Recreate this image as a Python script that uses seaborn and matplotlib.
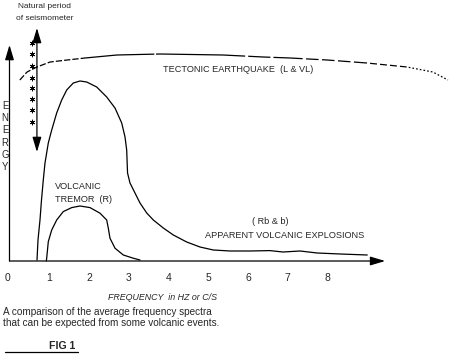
import numpy as np
import pandas as pd
import matplotlib
matplotlib.use("Agg")
import matplotlib.pyplot as plt
from matplotlib.lines import Line2D
import seaborn as sns

# ---------------- data (frequency in Hz, relative energy) ----------------
tect_freq = [0.26, 0.44, 0.69, 1.02, 1.45, 1.90, 2.70, 3.79, 5.37, 6.38, 7.06, 7.99, 8.99, 10.0, 10.65, 11.03]
tect_energy = [9.05, 9.45, 9.70, 9.95, 10.05, 10.15, 10.30, 10.35, 10.30, 10.20, 10.15, 10.05, 9.90, 9.70, 9.45, 9.05]

expl_freq = [0.692, 0.717, 0.767, 0.805, 0.850, 0.893, 0.976, 1.062, 1.187, 1.313, 1.439, 1.605, 1.774,
             1.942, 2.194, 2.445, 2.654, 2.823, 2.906, 2.948, 2.964, 2.970, 3.031, 3.157, 3.283, 3.452,
             3.618, 3.869, 4.121, 4.458, 4.792, 5.127, 5.547, 6.05, 6.55, 6.88, 7.31, 7.74, 8.32, 9.00]
expl_energy = [0.05, 1.05, 2.05, 3.05, 4.05, 4.90, 5.90, 6.55, 7.40, 8.05, 8.55, 8.90, 9.00,
               8.95, 8.70, 8.20, 7.65, 6.90, 6.20, 5.55, 4.70, 4.40, 3.90, 3.40, 2.90, 2.40,
               2.05, 1.65, 1.30, 0.95, 0.70, 0.55, 0.50, 0.50, 0.52, 0.45, 0.50, 0.40, 0.35, 0.30]

trem_freq = [0.926, 0.936, 0.976, 1.062, 1.187, 1.353, 1.565, 1.774, 2.025, 2.277, 2.445, 2.486, 2.528,
             2.654, 2.863, 3.114, 3.283]
trem_energy = [0.0, 0.15, 0.97, 1.55, 2.05, 2.47, 2.67, 2.75, 2.67, 2.39, 2.05, 1.64, 1.14,
               0.64, 0.30, 0.14, 0.05]

seis_freq = 0.69            # natural period of seismometer
seis_range = [5.45, 11.65]
star_freq = 0.57
star_energy = [10.9, 10.35, 9.75, 9.15, 8.65, 8.1, 7.55, 6.95]

tick_vals = [0, 1, 2, 3, 4, 5, 6, 7, 8]
x_axis_end = 9.45
y_axis_end = 10.8

# ---------------- figure ----------------
sns.set_style("white")
plt.rcParams['font.family'] = ['Liberation Sans', 'DejaVu Sans']
plt.rcParams['lines.scale_dashes'] = False

W, H = 454, 360
fig = plt.figure(figsize=(W / 100, H / 100), dpi=100)
ax = fig.add_axes([0, 0, 1, 1])
PX = 39.75     # pixels per Hz
X0 = 9.5       # pixel of 0 Hz
Y0 = 261       # pixel of zero energy
PY = 20.0      # pixels per energy unit
ax.set_xlim(-X0 / PX, (W - X0) / PX)
ax.set_ylim((Y0 - H) / PY, Y0 / PY)
ax.axis("off")

lw = 0.9
# tectonic earthquake: dashed, with the dashes getting shorter to the right
tect = pd.DataFrame({"f": tect_freq, "e": tect_energy})
segs = [((0.26, 1.90), (4.5, 1.5)), ((1.90, 5.37), (50, 1.2)), ((5.37, 7.06), (16, 2.2)),
        ((7.06, 8.82), (9, 2.5)), ((8.82, 9.95), (5, 2.2)), ((9.95, 11.03), (1.2, 1.5))]
for (lo, hi), dash in segs:
    fx = np.linspace(lo, hi, 60)
    ey = np.interp(fx, tect.f, tect.e)
    sns.lineplot(x=fx, y=ey, ax=ax, color="black", lw=lw, sort=False)
    ax.lines[-1].set_dashes(dash)

sns.lineplot(x=expl_freq, y=expl_energy, ax=ax, color="black", lw=lw, sort=False)
sns.lineplot(x=trem_freq, y=trem_energy, ax=ax, color="black", lw=lw, sort=False)

# axes arrows
head = dict(color="black", lw=lw, shrinkA=0, shrinkB=0, mutation_scale=9)
ax.annotate("", xy=(x_axis_end, 0), xytext=(0, 0),
            arrowprops=dict(arrowstyle="-|>,head_length=1.0,head_width=0.3", **head))
ax.annotate("", xy=(0, y_axis_end), xytext=(0, 0),
            arrowprops=dict(arrowstyle="-|>,head_length=1.0,head_width=0.3", **head))
ax.annotate("", xy=(seis_freq, seis_range[1]), xytext=(seis_freq, seis_range[0]),
            arrowprops=dict(arrowstyle="<|-|>,head_length=1.0,head_width=0.3", **head))
ax.plot([star_freq] * len(star_energy), star_energy, ls="none", marker=(6, 2, 0), ms=4.0,
        mew=0.55, color="black")

# tick labels
for t in tick_vals:
    ax.text(t - 0.06 if t == 0 else t, (Y0 - 278) / PY, str(t), ha="center", va="center", fontsize=7.5)

def ftxt(px, py, s, **kw):
    fig.text(px / W, 1 - py / H, s, **kw)

fs = 6.6
ftxt(45, 7, "Natural period", ha="center", va="center", fontsize=6)
ftxt(45, 18, "of seismometer", ha="center", va="center", fontsize=6)
ftxt(163, 70, "TECTONIC EARTHQUAKE  (L & VL)", ha="left", va="center", fontsize=fs)
for i, ch in enumerate("ENERGY"):
    ftxt(5, 106 + i * 12.2, ch, ha="center", va="center", fontsize=6.9)
ftxt(55, 186, "VOLCANIC", ha="left", va="center", fontsize=fs)
ftxt(55, 199, "TREMOR  (R)", ha="left", va="center", fontsize=fs)
ftxt(270, 222, "( Rb & b)", ha="center", va="center", fontsize=fs)
ftxt(285, 235, "APPARENT VOLCANIC EXPLOSIONS", ha="center", va="center", fontsize=fs)
ftxt(163, 297, "FREQUENCY  in HZ or C/S", ha="center", va="center", fontsize=6.4, style="italic")
ftxt(3, 312, "A comparison of the average frequency spectra", ha="left", va="center", fontsize=7.2)
ftxt(3, 323, "that can be expected from some volcanic events.", ha="left", va="center", fontsize=7.2)
ftxt(62, 346, "FIG 1", ha="center", va="center", fontsize=7.6, weight="bold")
fig.add_artist(Line2D([5 / W, 78 / W], [1 - 352 / H, 1 - 352 / H], color="black", lw=0.9))

fig.savefig("out.png", dpi=100, facecolor="white")
